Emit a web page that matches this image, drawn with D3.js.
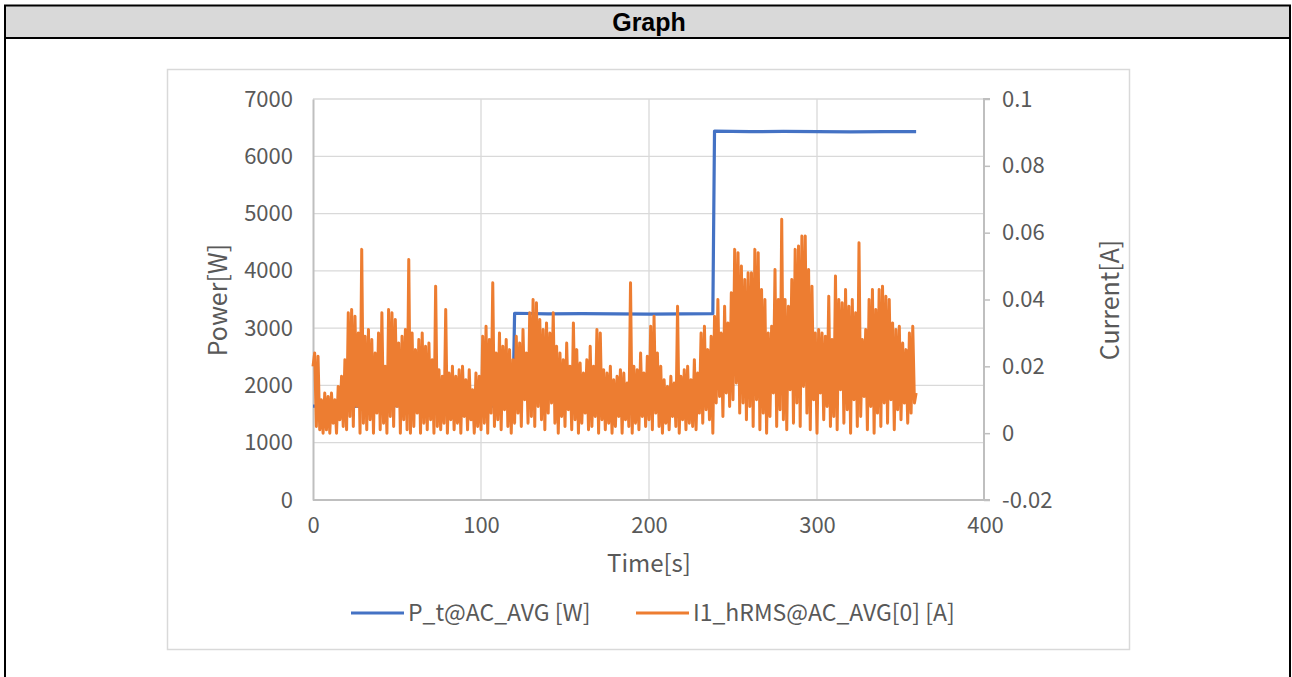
<!DOCTYPE html>
<html>
<head>
<meta charset="utf-8">
<script src="https://cdn.jsdelivr.net/npm/d3@7"></script>
<style>
  html, body { margin: 0; padding: 0; background: #fff; }
  svg { display: block; }
</style>
</head>
<body>
<svg id="chart" width="1292" height="677"></svg>
<script>
// ---------- DATA ----------
const title = "Graph";
const xTicks = [0, 100, 200, 300, 400];
const leftTicks = [0, 1000, 2000, 3000, 4000, 5000, 6000, 7000];
const rightTicks = [-0.02, 0, 0.02, 0.04, 0.06, 0.08, 0.1];
const rightTickLabels = ["-0.02", "0", "0.02", "0.04", "0.06", "0.08", "0.1"];
const seriesNames = ["P_t@AC_AVG [W]", "I1_hRMS@AC_AVG[0] [A]"];

// Power series (primary axis): time [s] and value [W]
const powerTime  = [0, 20, 40, 60, 80, 100, 119, 120, 140, 160, 180, 200, 220, 238, 239, 260, 280, 300, 320, 340, 359];
const powerValue = [1640, 1630, 1650, 1640, 1620, 1640, 1640, 3260, 3250, 3255, 3250, 3245, 3250, 3255, 6440, 6430, 6435, 6430, 6425, 6430, 6430];

// Current series (secondary axis): one sample per second, t = 0..359, value [A]
const currentValue = [
  0.020, 0.024, 0.002, 0.023, 0.001, 0.010, 0.000, 0.012, 0.001, 0.011,
  0.000, 0.012, 0.003, 0.010, 0.000, 0.014, 0.004, 0.017, 0.002, 0.022,
  0.001, 0.036, 0.005, 0.037, 0.002, 0.035, 0.008, 0.030, 0.000, 0.055,
  0.003, 0.029, 0.001, 0.031, 0.004, 0.028, 0.000, 0.024, 0.006, 0.030,
  0.001, 0.036, 0.003, 0.020, 0.000, 0.037, 0.005, 0.036, 0.002, 0.034,
  0.008, 0.027, 0.000, 0.029, 0.004, 0.031, 0.001, 0.052, 0.000, 0.030,
  0.002, 0.025, 0.006, 0.028, 0.000, 0.030, 0.003, 0.026, 0.001, 0.027,
  0.004, 0.022, 0.000, 0.044, 0.002, 0.019, 0.001, 0.017, 0.003, 0.037,
  0.000, 0.018, 0.004, 0.020, 0.001, 0.017, 0.003, 0.019, 0.000, 0.020,
  0.005, 0.016, 0.001, 0.019, 0.004, 0.013, 0.000, 0.018, 0.002, 0.017,
  0.001, 0.029, 0.003, 0.032, 0.000, 0.028, 0.006, 0.045, 0.002, 0.024,
  0.004, 0.030, 0.001, 0.026, 0.007, 0.028, 0.002, 0.025, 0.000, 0.022,
  0.003, 0.029, 0.006, 0.027, 0.002, 0.031, 0.010, 0.024, 0.003, 0.036,
  0.005, 0.040, 0.002, 0.039, 0.008, 0.034, 0.004, 0.031, 0.001, 0.033,
  0.006, 0.030, 0.009, 0.036, 0.003, 0.026, 0.000, 0.024, 0.005, 0.022,
  0.002, 0.027, 0.007, 0.020, 0.001, 0.033, 0.004, 0.025, 0.000, 0.021,
  0.003, 0.018, 0.006, 0.022, 0.001, 0.026, 0.002, 0.020, 0.005, 0.031,
  0.000, 0.030, 0.004, 0.019, 0.001, 0.018, 0.003, 0.020, 0.000, 0.016,
  0.002, 0.017, 0.005, 0.019, 0.000, 0.018, 0.004, 0.015, 0.002, 0.045,
  0.000, 0.020, 0.003, 0.019, 0.001, 0.024, 0.005, 0.018, 0.002, 0.023,
  0.004, 0.032, 0.001, 0.035, 0.006, 0.024, 0.002, 0.020, 0.000, 0.016,
  0.003, 0.014, 0.001, 0.017, 0.005, 0.015, 0.002, 0.038, 0.000, 0.017,
  0.004, 0.019, 0.001, 0.020, 0.003, 0.016, 0.002, 0.022, 0.001, 0.018,
  0.006, 0.030, 0.003, 0.032, 0.007, 0.025, 0.004, 0.029, 0.000, 0.035,
  0.009, 0.040, 0.011, 0.030, 0.005, 0.038, 0.012, 0.033, 0.008, 0.042,
  0.010, 0.055, 0.015, 0.054, 0.006, 0.050, 0.009, 0.046, 0.004, 0.048,
  0.008, 0.048, 0.002, 0.055, 0.010, 0.054, 0.001, 0.043, 0.006, 0.040,
  0.000, 0.030, 0.005, 0.032, 0.012, 0.049, 0.002, 0.040, 0.007, 0.064,
  0.004, 0.040, 0.001, 0.038, 0.013, 0.046, 0.003, 0.055, 0.009, 0.056,
  0.002, 0.059, 0.014, 0.059, 0.006, 0.049, 0.001, 0.044, 0.010, 0.030,
  0.000, 0.031, 0.012, 0.030, 0.004, 0.029, 0.008, 0.041, 0.002, 0.028,
  0.005, 0.047, 0.001, 0.040, 0.013, 0.039, 0.003, 0.043, 0.007, 0.038,
  0.000, 0.040, 0.010, 0.036, 0.002, 0.057, 0.005, 0.028, 0.011, 0.031,
  0.001, 0.040, 0.008, 0.043, 0.000, 0.037, 0.006, 0.043, 0.002, 0.044,
  0.009, 0.041, 0.003, 0.040, 0.010, 0.033, 0.001, 0.031, 0.007, 0.032,
  0.004, 0.027, 0.009, 0.025, 0.003, 0.030, 0.006, 0.032, 0.009, 0.012
];

// ---------- LAYOUT ----------
const svg = d3.select("#chart");
const W = 1292, H = 677;
const plot = { left: 313, right: 985, top: 99, bottom: 500 };
const colors = { power: "#4472C4", current: "#ED7D31", text: "#595959", grid: "#D9D9D9", axis: "#BFBFBF" };
const font = "'Noto Sans CJK SC', 'Noto Sans', sans-serif";

// Outer frame & header
svg.append("rect").attr("x", 5).attr("y", 5).attr("width", 1285).attr("height", 33).attr("fill", "#D9D9D9");
svg.append("line").attr("x1", 4).attr("x2", 1291).attr("y1", 5.5).attr("y2", 5.5).attr("stroke", "#000").attr("stroke-width", 2);
svg.append("line").attr("x1", 4).attr("x2", 1291).attr("y1", 38).attr("y2", 38).attr("stroke", "#000").attr("stroke-width", 2);
svg.append("line").attr("x1", 5).attr("x2", 5).attr("y1", 5).attr("y2", H).attr("stroke", "#000").attr("stroke-width", 2);
svg.append("line").attr("x1", 1290).attr("x2", 1290).attr("y1", 5).attr("y2", H).attr("stroke", "#000").attr("stroke-width", 2);
svg.append("text").attr("x", 649).attr("y", 31).attr("text-anchor", "middle")
  .attr("font-family", "'Liberation Sans', Arial, sans-serif").attr("font-weight", "bold").attr("font-size", 25)
  .attr("fill", "#000").text(title);

// Chart area border
svg.append("rect").attr("x", 167.5).attr("y", 69.5).attr("width", 962).attr("height", 580)
  .attr("fill", "#fff").attr("stroke", "#D9D9D9").attr("stroke-width", 1.5);

// ---------- SCALES ----------
const x = d3.scaleLinear().domain([0, 400]).range([plot.left, plot.right]);
const yL = d3.scaleLinear().domain([0, 7000]).range([plot.bottom, plot.top]);
const yR = d3.scaleLinear().domain([-0.02, 0.1]).range([plot.bottom, plot.top]);

// Gridlines
const g = svg.append("g");
g.selectAll(".hg").data(leftTicks.filter(d => d > 0)).join("line")
  .attr("x1", plot.left).attr("x2", plot.right)
  .attr("y1", d => yL(d)).attr("y2", d => yL(d))
  .attr("stroke", colors.grid).attr("stroke-width", 1.3);
g.selectAll(".vg").data(xTicks.filter(d => d > 0 && d < 400)).join("line")
  .attr("x1", d => x(d)).attr("x2", d => x(d))
  .attr("y1", plot.top).attr("y2", plot.bottom)
  .attr("stroke", colors.grid).attr("stroke-width", 1.3);

// Axes
const axL = svg.append("g").attr("transform", `translate(${plot.left},0)`)
  .call(d3.axisLeft(yL).tickValues(leftTicks).tickSize(0).tickPadding(20).tickFormat(d3.format("d")));
const axR = svg.append("g").attr("transform", `translate(${plot.right - 1},0)`)
  .call(d3.axisRight(yR).tickValues(rightTicks).tickSize(6).tickPadding(12)
    .tickFormat((d, i) => rightTickLabels[i]));
const axB = svg.append("g").attr("transform", `translate(0,${plot.bottom})`)
  .call(d3.axisBottom(x).tickValues(xTicks).tickSize(0).tickPadding(17).tickFormat(d3.format("d")));

[axL, axR, axB].forEach(a => {
  a.select(".domain").attr("stroke", colors.axis).attr("stroke-width", 2);
  a.selectAll(".tick line").attr("stroke", colors.axis).attr("stroke-width", 1.5);
  a.selectAll("text").attr("fill", colors.text).attr("font-family", font).attr("font-size", 22);
});
axB.select(".domain").attr("d", `M${plot.left},0H${plot.right}`);
axR.select(".domain").attr("d", `M6,${plot.top}H0V${plot.bottom}H6`);

// Axis titles
svg.append("text").attr("transform", `translate(227,300) rotate(-90)`).attr("text-anchor", "middle")
  .attr("font-family", font).attr("font-size", 25).attr("fill", colors.text).text("Power[W]");
svg.append("text").attr("transform", `translate(1119,300) rotate(-90)`).attr("text-anchor", "middle")
  .attr("font-family", font).attr("font-size", 25).attr("fill", colors.text).text("Current[A]");
svg.append("text").attr("x", 649).attr("y", 572).attr("text-anchor", "middle")
  .attr("font-family", font).attr("font-size", 24).attr("fill", colors.text).text("Time[s]");

// ---------- SERIES ----------
const powerData = powerTime.map((t, i) => [t, powerValue[i]]);
const currentData = currentValue.map((v, i) => [i, v]);

svg.append("path").datum(powerData)
  .attr("fill", "none").attr("stroke", colors.power).attr("stroke-width", 3.2).attr("stroke-linejoin", "round")
  .attr("d", d3.line().x(d => x(d[0])).y(d => yL(d[1])));

svg.append("path").datum(currentData)
  .attr("fill", "none").attr("stroke", colors.current).attr("stroke-width", 3).attr("stroke-linejoin", "round")
  .attr("d", d3.line().x(d => x(d[0])).y(d => yR(d[1])));

// ---------- LEGEND ----------
const legend = [
  { name: seriesNames[0], color: colors.power, x: 351 },
  { name: seriesNames[1], color: colors.current, x: 636 }
];
const lg = svg.append("g");
legend.forEach(l => {
  lg.append("line").attr("x1", l.x).attr("x2", l.x + 53).attr("y1", 613).attr("y2", 613)
    .attr("stroke", l.color).attr("stroke-width", 3.2);
  lg.append("text").attr("x", l.x + 57).attr("y", 621).attr("font-family", font).attr("font-size", 23)
    .attr("fill", colors.text).text(l.name);
});
</script>
</body>
</html>
